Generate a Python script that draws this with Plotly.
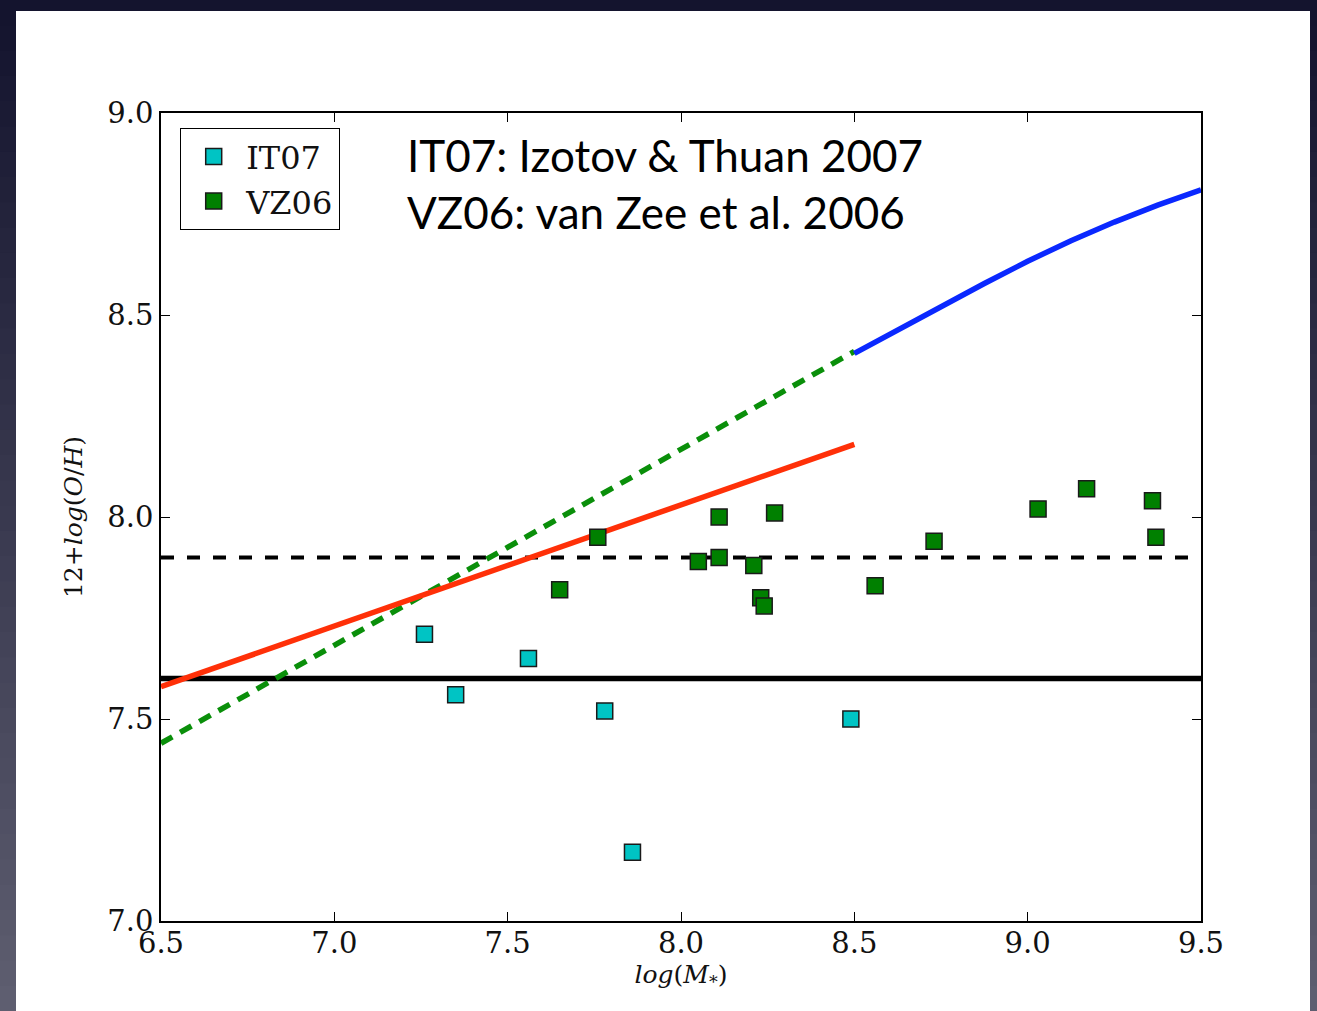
import plotly.graph_objects as go

# --- data -------------------------------------------------------------
# IT07 (Izotov & Thuan 2007)
it07_logm = [7.26, 7.35, 7.56, 7.78, 7.86, 8.49]
it07_oh = [7.71, 7.56, 7.65, 7.52, 7.17, 7.50]

# VZ06 (van Zee et al. 2006)
vz06_logm = [7.65, 7.76, 8.05, 8.11, 8.11, 8.21, 8.23, 8.24, 8.27,
             8.56, 8.73, 9.03, 9.17, 9.36, 9.37]
vz06_oh = [7.82, 7.95, 7.89, 8.00, 7.90, 7.88, 7.80, 7.78, 8.01,
           7.83, 7.94, 8.02, 8.07, 8.04, 7.95]

# model relations
red_logm = [6.5, 8.5]
red_oh = [7.58, 8.18]

green_logm = [6.5, 8.5]
green_oh = [7.44, 8.41]

blue_logm = [8.5, 8.625, 8.75, 8.875, 9.0, 9.125, 9.25, 9.375, 9.5]
blue_oh = [8.405, 8.463, 8.521, 8.578, 8.633, 8.684, 8.730, 8.772, 8.81]

ref_logm = [6.5, 9.5]
level_dashed = 7.9
level_solid = 7.6

x_ticks = [6.5, 7.0, 7.5, 8.0, 8.5, 9.0, 9.5]
y_ticks = [7.0, 7.5, 8.0, 8.5, 9.0]

# --- figure -----------------------------------------------------------
W, H = 1317, 1011
L, R, T, B = 161, 1201, 113, 921   # plot area in pixels


def px_x(p):
    return (p - L) / (R - L)


def px_y(p):
    return (B - p) / (B - T)


fig = go.Figure()

fig.add_trace(go.Scatter(x=ref_logm, y=[level_solid] * 2, mode="lines",
                         line=dict(color="black", width=5.5), showlegend=False))
fig.add_trace(go.Scatter(x=ref_logm, y=[level_dashed] * 2, mode="lines",
                         line=dict(color="black", width=4, dash="13px,13px"),
                         showlegend=False))
fig.add_trace(go.Scatter(x=green_logm, y=green_oh, mode="lines",
                         line=dict(color="#0a8f0a", width=5.5, dash="13px,9px"),
                         showlegend=False))
fig.add_trace(go.Scatter(x=red_logm, y=red_oh, mode="lines",
                         line=dict(color="#ff3008", width=5.5), showlegend=False))
fig.add_trace(go.Scatter(x=blue_logm, y=blue_oh, mode="lines",
                         line=dict(color="#0a28ff", width=5.5),
                         showlegend=False))

fig.add_trace(go.Scatter(x=it07_logm, y=it07_oh, mode="markers", name="IT07",
                         marker=dict(symbol="square", size=16, color="#00c4c4",
                                     line=dict(color="#1a1a1a", width=1.5))))
fig.add_trace(go.Scatter(x=vz06_logm, y=vz06_oh, mode="markers", name="VZ06",
                         marker=dict(symbol="square", size=16, color="#008000",
                                     line=dict(color="#1a1a1a", width=1.5))))

# slide background: dark vertical gradient with a white panel on top
shapes = []
n_bands = 40
c0, c1 = (20, 20, 46), (94, 94, 112)
for i in range(n_bands):
    f = i / (n_bands - 1)
    col = "rgb({},{},{})".format(*[int(a + (b - a) * f) for a, b in zip(c0, c1)])
    y0 = H * i / n_bands
    y1 = H * (i + 1) / n_bands + 1
    shapes.append(dict(type="rect", xref="paper", yref="paper", layer="below",
                       x0=px_x(0), x1=px_x(W), y0=px_y(y1), y1=px_y(y0),
                       line=dict(width=0), fillcolor=col))
shapes.append(dict(type="rect", xref="paper", yref="paper", layer="below",
                   x0=px_x(16), x1=px_x(1310), y0=px_y(W), y1=px_y(11),
                   line=dict(width=0), fillcolor="white"))

annotations = [
    dict(text="IT07: Izotov &amp; Thuan 2007", xref="paper", yref="paper",
         x=px_x(405), y=px_y(155), xanchor="left", yanchor="middle",
         showarrow=False, font=dict(family="Lato", size=44, color="black")),
    dict(text="VZ06: van Zee et al. 2006", xref="paper", yref="paper",
         x=px_x(405), y=px_y(212), xanchor="left", yanchor="middle",
         showarrow=False, font=dict(family="Lato", size=44, color="black")),
]

axis_common = dict(showline=True, linecolor="black", linewidth=1.5, mirror="ticks",
                   ticks="inside", ticklen=9, tickwidth=1.2, tickcolor="black",
                   showgrid=False, zeroline=False,
                   tickfont=dict(family="DejaVu Serif", size=29, color="#111"))

fig.update_layout(
    width=W, height=H,
    margin=dict(l=L, r=W - R, t=T, b=H - B),
    paper_bgcolor="rgb(20,20,46)",
    plot_bgcolor="white",
    shapes=shapes,
    annotations=annotations,
    xaxis=dict(range=[6.5, 9.5], tickvals=x_ticks,
               ticktext=["%.1f" % v for v in x_ticks],
               ticklabelstandoff=-5,
               title=dict(text="<i>log</i>(<i>M</i><sub>*</sub>)", standoff=6,
                          font=dict(family="DejaVu Serif", size=25, color="#111")),
               **axis_common),
    yaxis=dict(range=[7.0, 9.0], tickvals=y_ticks,
               ticktext=["%.1f" % v for v in y_ticks],
               title=dict(text="12+<i>log</i>(<i>O</i>/<i>H</i>)", standoff=18,
                          font=dict(family="DejaVu Serif", size=25, color="#111")),
               **axis_common),
    legend=dict(x=px_x(180), y=px_y(128), xanchor="left", yanchor="top",
                bgcolor="white", bordercolor="black", borderwidth=1.2,
                font=dict(family="DejaVu Serif", size=32, color="#111"),
                itemwidth=55, tracegroupgap=0),
    showlegend=True,
)

fig.write_html("out.html")
